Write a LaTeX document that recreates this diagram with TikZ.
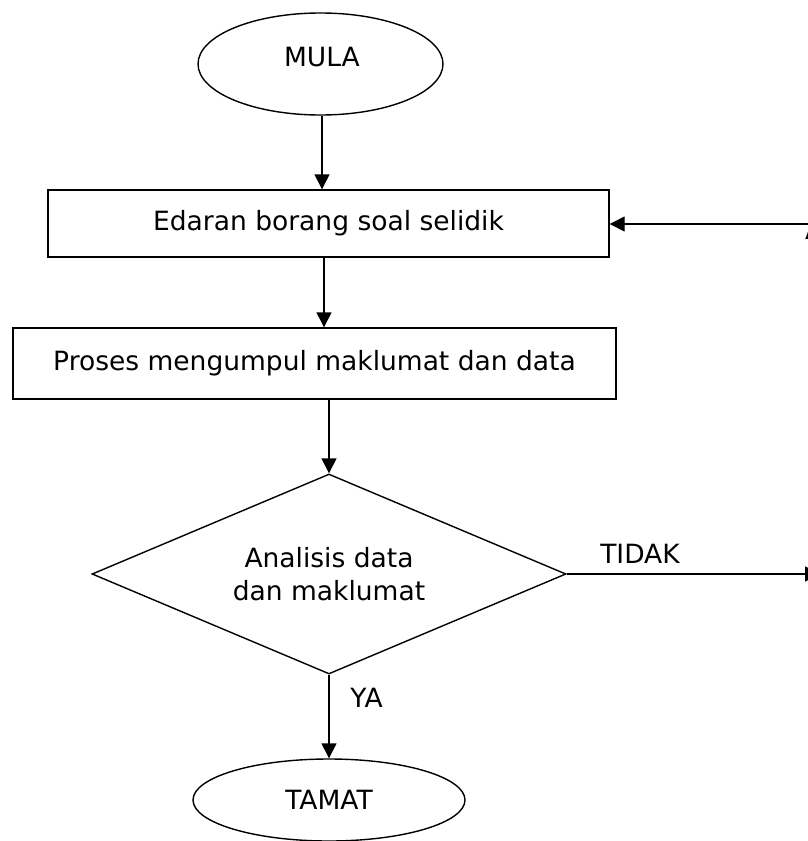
\documentclass[tikz,border=0pt]{standalone}
\usepackage{fontspec}
\setmainfont{DejaVu Sans}
\usetikzlibrary{shapes.geometric,arrows.meta}
\begin{document}
\begin{tikzpicture}[x=1pt,y=-1pt,
  every node/.style={font=\fontsize{26.5}{33}\selectfont},
  line/.style={line width=1.4pt},
  arrow/.style={line, -{Triangle[length=15pt,width=15pt]}},
  terminal/.style={draw, line width=1.4pt, ellipse, inner sep=0pt},
  procbox/.style={draw, line width=1.4pt, rectangle, inner sep=0pt},
  decision/.style={draw, line width=1.4pt, diamond, aspect=2.37, inner sep=0pt, align=center},
  lbl/.style={inner sep=0pt}]
\useasboundingbox (0,0) rectangle (808,841);
\fill[white] (0,0) rectangle (808,841);
% nodes
\node[terminal, minimum width=245pt, minimum height=102pt] (mula) at (320.5,64) {};
\node[lbl] (mulatext) at (322,57) {MULA};
\node[procbox, minimum width=561pt, minimum height=67pt] (edaran) at (328.5,223.5) {Edaran borang soal selidik};
\node[procbox, minimum width=603pt, minimum height=71pt] (proses) at (314.5,363.5) {Proses mengumpul maklumat dan data};
\node[decision, minimum width=474pt, minimum height=200pt] (analisis) at (329,574) {Analisis data\\dan maklumat};
\node[terminal, minimum width=272pt, minimum height=82pt] (tamat) at (329,800) {TAMAT};
\node[lbl] (tidak) at (640,554) {TIDAK};
\node[lbl] (ya) at (366.5,698) {YA};
\node[lbl, anchor=base west] (aref) at (805,239) {A};
% free ends
\coordinate (rin) at (812,224);
\coordinate (tout) at (820,574);
% connectors
\draw[arrow] ([xshift=1.5pt]mula.south) -- ([xshift=1.5pt]mula.south |- edaran.north);
\draw[arrow] ([xshift=-4.5pt]edaran.south) -- ([xshift=-4.5pt]edaran.south |- proses.north);
\draw[arrow] ([xshift=14.5pt]proses.south) -- (analisis.north);
\draw[arrow] (analisis.south) -- (tamat.north);
\draw[arrow] (analisis.east) -- (tout);
\draw[arrow] (rin) -- (edaran.east |- rin);
\end{tikzpicture}
\end{document}
